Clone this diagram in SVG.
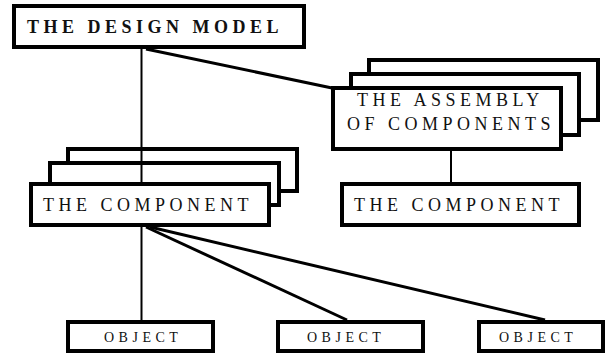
<svg xmlns="http://www.w3.org/2000/svg" width="615" height="355" viewBox="0 0 615 355">
  <style>
    .box { fill: #fff; stroke: #000; stroke-width: 4; }
    text { font-family: "Liberation Serif", "DejaVu Serif", "Times New Roman", serif; fill: #111; }
    .lbl { font-size: 18px; letter-spacing: 4.5px; }
    .bold { font-weight: bold; }
    .small { font-size: 14px; letter-spacing: 4.5px; }
    .wire { stroke: #000; fill: none; }
    .thin { stroke-width: 2; }
    .thick { stroke-width: 3; }
  </style>
  <rect width="615" height="355" fill="#fff"/>

  <g id="design-model">
    <rect class="box" x="14" y="6" width="290" height="41"/>
    <text class="lbl bold" x="27" y="33">THE DESIGN MODEL</text>
  </g>

  <g id="assembly">
    <rect class="box" x="369" y="60" width="229" height="60"/>
    <rect class="box" x="351" y="74" width="228" height="61"/>
    <rect class="box" x="333" y="88" width="228" height="61"/>
    <text class="lbl" x="357" y="106">THE ASSEMBLY</text>
    <text class="lbl" x="347" y="130">OF COMPONENTS</text>
  </g>

  <g id="component-stack">
    <rect class="box" x="68" y="149" width="229" height="42"/>
    <rect class="box" x="50" y="163" width="229" height="42"/>
  </g>

  <g id="connectors">
    <line class="wire thin" x1="141.5" y1="49" x2="141.5" y2="182"/>
    <line class="wire thick" x1="146" y1="49" x2="332" y2="88"/>
    <line class="wire thin" x1="451" y1="151" x2="451" y2="182"/>
    <line class="wire thin" x1="141.5" y1="227" x2="141.5" y2="320"/>
    <line class="wire thick" x1="146" y1="227" x2="347" y2="320"/>
    <line class="wire thick" x1="150" y1="227" x2="545" y2="320"/>
  </g>

  <g id="component">
    <rect class="box" x="31" y="184" width="238" height="41"/>
    <text class="lbl" x="43" y="211">THE COMPONENT</text>
  </g>

  <g id="component-2">
    <rect class="box" x="342" y="184" width="237" height="41"/>
    <text class="lbl" x="354" y="211">THE COMPONENT</text>
  </g>

  <g id="object-1">
    <rect class="box" x="68" y="322" width="145" height="29"/>
    <text class="lbl small" x="104" y="342">OBJECT</text>
  </g>

  <g id="object-2">
    <rect class="box" x="278" y="322" width="145" height="29"/>
    <text class="lbl small" x="307" y="342">OBJECT</text>
  </g>

  <g id="object-3">
    <rect class="box" x="479" y="322" width="124" height="29"/>
    <text class="lbl small" x="499" y="342">OBJECT</text>
  </g>
</svg>
